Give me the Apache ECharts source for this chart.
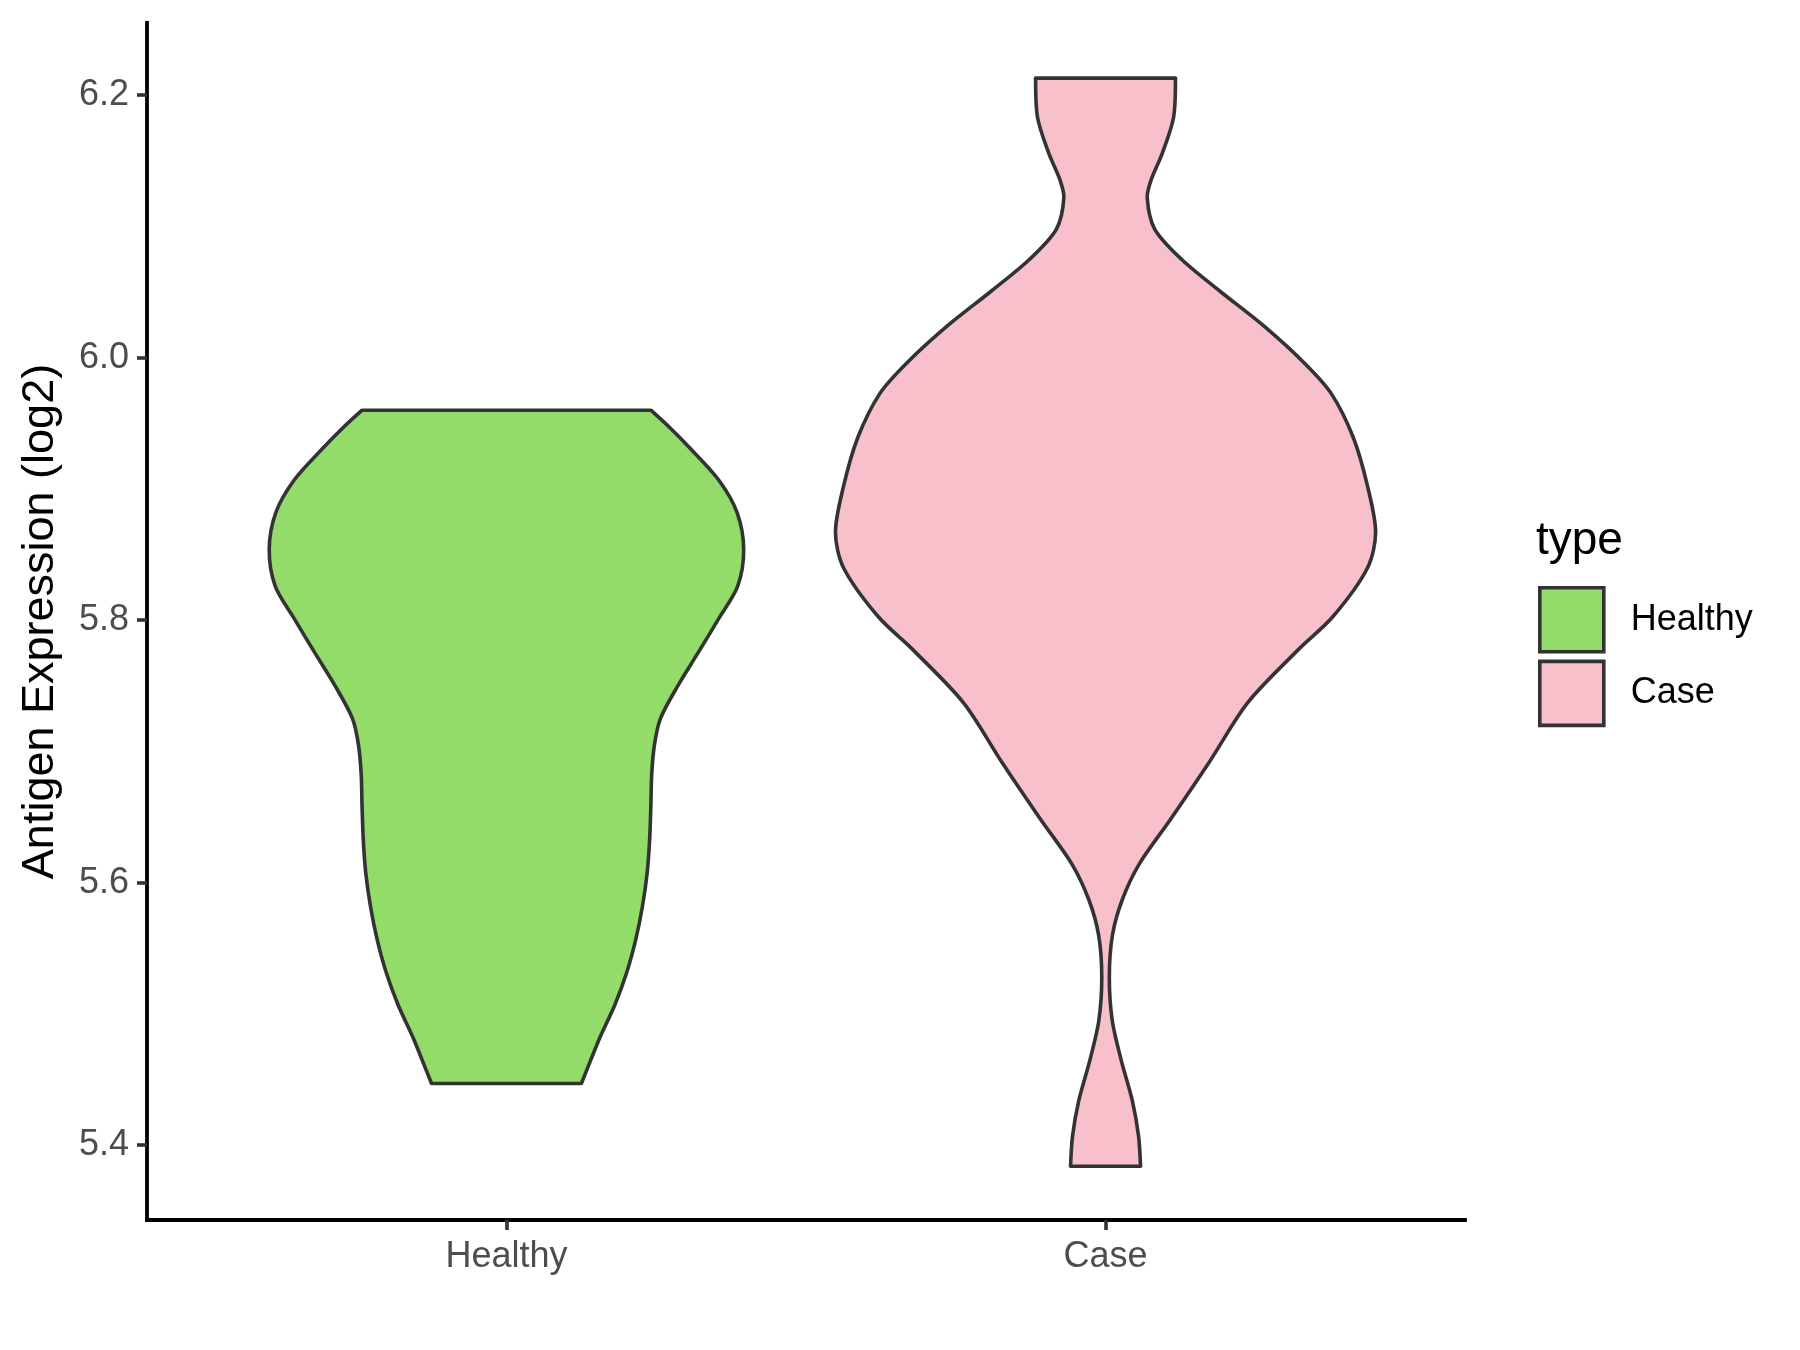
<!DOCTYPE html>
<html>
<head>
<meta charset="utf-8">
<script src="https://cdn.jsdelivr.net/npm/echarts@6/dist/echarts.min.js"></script>
<style>
html,body{margin:0;padding:0;background:#fff;}
#chart{width:1800px;height:1350px;}
</style>
</head>
<body>
<div id="chart"></div>
<script>
// Categories and tick labels
const categories = ["Healthy", "Case"];
const yTicks = [5.4, 5.6, 5.8, 6.0, 6.2];
const legendTitle = "type";
const yTitle = "Antigen Expression (log2)";

// Violin outlines: value (log2 expression) and half-width (in category units)
const healthyY = [5.960, 5.947, 5.932, 5.907, 5.882, 5.854, 5.826, 5.801, 5.776, 5.750, 5.725, 5.705, 5.683, 5.658, 5.633, 5.608, 5.582, 5.557, 5.532, 5.507, 5.482, 5.456, 5.447];
const healthyW = [0.241, 0.272, 0.3045, 0.354, 0.385, 0.396, 0.386, 0.354, 0.321, 0.286, 0.257, 0.247, 0.2425, 0.241, 0.239, 0.235, 0.227, 0.216, 0.201, 0.181, 0.156, 0.133, 0.125];

const caseY = [6.213, 6.183, 6.156, 6.136, 6.122, 6.098, 6.075, 6.051, 6.024, 5.996, 5.973, 5.939, 5.901, 5.867, 5.840, 5.803, 5.777, 5.737, 5.692, 5.648, 5.614, 5.587, 5.560, 5.528, 5.495, 5.465, 5.434, 5.407, 5.384];
const caseW = [0.1167, 0.1135, 0.095, 0.0765, 0.0696, 0.082, 0.1267, 0.190, 0.2646, 0.3317, 0.3763, 0.4137, 0.4379, 0.4508, 0.4374, 0.380, 0.3205, 0.237, 0.1733, 0.108, 0.0559, 0.0279, 0.0115, 0.0063, 0.0112, 0.026, 0.0447, 0.0551, 0.0584];

const colors = ["#94DC6A", "#F7C0CB"];
const violins = [
  {name: categories[0], ys: healthyY, ws: healthyW},
  {name: categories[1], ys: caseY, ws: caseW}
];

const chart = echarts.init(document.getElementById('chart'), null, {renderer: 'canvas'});

function makeRender(v, color) {
  return function (params, api) {
    const cx = api.value(0);
    const left = [], right = [];
    for (let i = 0; i < v.ys.length; i++) {
      left.push(api.coord([cx - v.ws[i], v.ys[i]]));
      right.push(api.coord([cx + v.ws[i], v.ys[i]]));
    }
    const outline = left.concat(right.slice().reverse());
    return {
      type: 'group',
      children: [
        {
          type: 'polygon',
          shape: {points: outline},
          style: {fill: color, stroke: null}
        },
        {
          type: 'polyline',
          shape: {points: left, smooth: 0.3},
          style: {fill: null, stroke: '#333333', lineWidth: 3.6, lineJoin: 'round'}
        },
        {
          type: 'polyline',
          shape: {points: right, smooth: 0.3},
          style: {fill: null, stroke: '#333333', lineWidth: 3.6, lineJoin: 'round'}
        },
        {
          type: 'line',
          shape: {x1: left[0][0], y1: left[0][1], x2: right[0][0], y2: right[0][1]},
          style: {stroke: '#333333', lineWidth: 3.6, lineCap: 'round'}
        },
        {
          type: 'line',
          shape: {x1: left[left.length - 1][0], y1: left[left.length - 1][1], x2: right[right.length - 1][0], y2: right[right.length - 1][1]},
          style: {stroke: '#333333', lineWidth: 3.6, lineCap: 'round'}
        }
      ]
    };
  };
}

const font = '"Liberation Sans", Arial, sans-serif';

const option = {
  backgroundColor: '#ffffff',
  animation: false,
  textStyle: {fontFamily: font},
  title: {
    text: legendTitle,
    left: 1536, top: 518, padding: 0,
    textStyle: {fontFamily: font, fontSize: 46, fontWeight: 'normal', color: '#000'}
  },
  legend: {
    orient: 'vertical',
    left: 1538, top: 586,
    padding: 0,
    itemWidth: 64, itemHeight: 64, itemGap: 6,
    icon: 'rect',
    itemStyle: {borderColor: '#333333', borderWidth: 3.6},
    textStyle: {fontFamily: font, fontSize: 36, color: '#000', padding: [0, 0, 0, 22]},
    data: categories
  },
  grid: {left: 147, right: 335, top: 23, bottom: 130},
  xAxis: {
    type: 'value', min: 0.4, max: 2.6,
    splitLine: {show: false},
    axisLine: {show: true, onZero: false, lineStyle: {color: '#000', width: 3.8, cap: 'square'}},
    axisTick: {show: true, customValues: [1, 2], length: 10, lineStyle: {color: '#333', width: 3.6}},
    axisLabel: {
      customValues: [1, 2], margin: 19,
      fontFamily: font, fontSize: 36, color: '#4D4D4D',
      formatter: function (v) { return categories[Math.round(v) - 1] || ''; }
    }
  },
  yAxis: {
    type: 'value', min: 5.343, max: 6.255,
    splitLine: {show: false},
    name: yTitle, nameLocation: 'middle', nameGap: 84, nameRotate: 90,
    nameTextStyle: {fontFamily: font, fontSize: 45, color: '#000'},
    axisLine: {show: true, onZero: false, lineStyle: {color: '#000', width: 3.8, cap: 'square'}},
    axisTick: {show: true, customValues: yTicks, length: 10, lineStyle: {color: '#333', width: 3.6}},
    axisLabel: {
      customValues: yTicks, margin: 18,
      fontFamily: font, fontSize: 36, color: '#4D4D4D',
      formatter: function (v) { return v.toFixed(1); }
    }
  },
  series: violins.map(function (v, i) {
    return {
      type: 'custom',
      name: v.name,
      coordinateSystem: 'cartesian2d',
      itemStyle: {color: colors[i]},
      encode: {x: 0, y: 1},
      data: [[i + 1, v.ys[0]]],
      renderItem: makeRender(v, colors[i]),
      clip: false
    };
  })
};
chart.setOption(option);
</script>
</body>
</html>
